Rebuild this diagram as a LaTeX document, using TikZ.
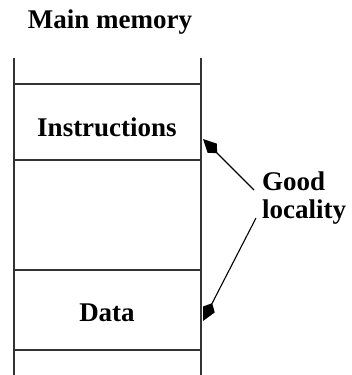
\documentclass[tikz,border=0pt]{standalone}
\usepackage{fontspec}
\setmainfont{Liberation Serif}
\usetikzlibrary{arrows.meta}
\begin{document}
\begin{tikzpicture}[x=1pt,y=-1pt,
  lbl/.style={font=\fontsize{27}{31}\selectfont\bfseries, inner sep=0pt},
  mem/.style={line width=1.1pt, draw=black!80},
  ptr/.style={line width=1.1pt, -{Kite[length=20pt,width=13pt,inset=7pt]}}]
\useasboundingbox (0,0) rectangle (352,375);
\draw[mem] (14,58) -- (14,375);
\draw[mem] (201,58) -- (201,375);
\draw[mem] (14,84) -- (201,84);
\draw[mem] (14,160) -- (201,160);
\draw[mem] (14,270) -- (201,270);
\draw[mem] (14,350) -- (201,350);
\node[lbl] (title) at (110,22) {Main memory};
\node[lbl] (instr) at (107,127) {Instructions};
\node[lbl] (data) at (107,313) {Data};
\node[lbl, align=left] (good) at (304,198) {Good\\[-3pt]locality};
\coordinate (t1) at (203,139);
\coordinate (t2) at (203,321);
\draw[ptr] (254,190) -- (t1);
\draw[ptr] (256,218) -- (t2);
\end{tikzpicture}
\end{document}
